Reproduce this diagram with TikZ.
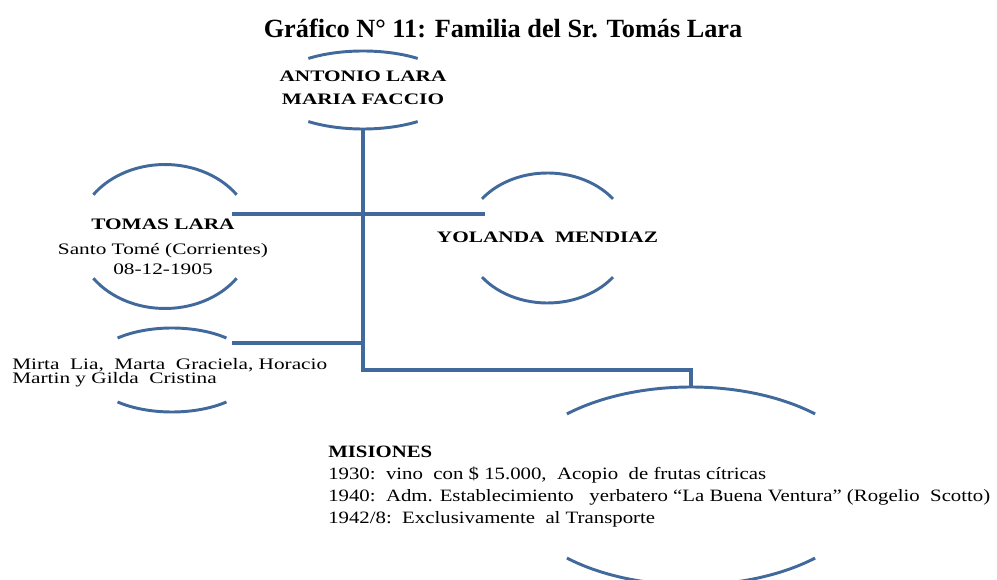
\documentclass[tikz,border=0pt]{standalone}
\usepackage{fontspec}
\setmainfont{Liberation Serif}
\newfontfamily\widefont[FakeStretch=1.33]{Liberation Serif}
\newfontfamily\listfont[FakeStretch=1.2]{Liberation Serif}
\usetikzlibrary{calc,positioning}
\definecolor{famblue}{HTML}{41699C}
\tikzset{
  ring/.style={draw=famblue, line width=2.2pt},
  link/.style={draw=famblue, line width=2.4pt},
  person/.style={inner sep=0pt, align=center, font=\widefont\fontsize{12}{17}\selectfont},
  textblock/.style={inner sep=0pt, align=left, anchor=west}
}

\begin{document}
\begin{tikzpicture}[x=0.75pt, y=0.75pt]

  \useasboundingbox (0,0) rectangle (997,-580);

  \node [inner sep=0pt, font=\bfseries\fontsize{19.7}{22}\selectfont] at (503,-28) (title) {Gráfico N° 11: Familia del Sr. Tomás Lara};

  % ring centres
  \coordinate (antonio) at (363,-90);
  \coordinate (tomas) at (165,-236.5);
  \coordinate (yolanda) at (547.5,-238);
  \coordinate (kids) at (172,-370);
  \coordinate (misiones) at (691,-486);

  \node [person] at ($(antonio)+(0,2)$) (antonio-txt) {\bfseries ANTONIO LARA\\\bfseries MARIA FACCIO};
  \node [person, font=\widefont\fontsize{12}{15}\selectfont] at ($(tomas)+(-2,-10)$) (tomas-txt) {\bfseries TOMAS LARA\\[3.75pt]Santo Tomé (Corrientes)\\08-12-1905};
  \node [person] at ($(yolanda)+(0,1)$) (yolanda-txt) {\bfseries YOLANDA\ \ MENDIAZ};
  \node [textblock, font=\widefont\fontsize{12}{10.5}\selectfont] at (12,-372.5) (kids-txt) {Mirta\ \ Lia,\ \ Marta\ \ Graciela,\ Horacio\\Martin y Gilda\ \ Cristina};
  \node [textblock, font=\listfont\fontsize{13}{16.5}\selectfont] at (328,-487) (misiones-txt) {\textbf{MISIONES}\\1930:\ \ vino\ \ con \$ 15.000,\ \ Acopio\ \ de frutas cítricas\\1940:\ \ Adm. Establecimiento\ \ \ yerbatero “La Buena Ventura” (Rogelio\ \ Scotto)\\1942/8:\ \ Exclusivamente\ \ al Transporte};

  % broken rings
  \draw [ring] ($(antonio)+(54:93 and 39)$) arc[start angle=54, end angle=126, x radius=93, y radius=39];
  \draw [ring] ($(antonio)+(234:93 and 39)$) arc[start angle=234, end angle=306, x radius=93, y radius=39];
  \draw [ring] ($(tomas)+(35.5:88 and 72)$) arc[start angle=35.5, end angle=144.5, x radius=88, y radius=72];
  \draw [ring] ($(tomas)+(215.5:88 and 72)$) arc[start angle=215.5, end angle=324.5, x radius=88, y radius=72];
  \draw [ring] ($(yolanda)+(37:82 and 65)$) arc[start angle=37, end angle=143, x radius=82, y radius=65];
  \draw [ring] ($(yolanda)+(217:82 and 65)$) arc[start angle=217, end angle=323, x radius=82, y radius=65];
  \draw [ring] ($(kids)+(49.6:84 and 42)$) arc[start angle=49.6, end angle=130.4, x radius=84, y radius=42];
  \draw [ring] ($(kids)+(229.6:84 and 42)$) arc[start angle=229.6, end angle=310.4, x radius=84, y radius=42];
  \draw [ring] ($(misiones)+(46.7:181 and 99)$) arc[start angle=46.7, end angle=133.3, x radius=181, y radius=99];
  \draw [ring] ($(misiones)+(226.7:181 and 99)$) arc[start angle=226.7, end angle=313.3, x radius=181, y radius=99];

  % connectors
  \coordinate (antonio-bot) at ($(antonio)+(0,-39)$);
  \coordinate (misiones-top) at ($(misiones)+(0,99)$);
  \coordinate (tomas-r) at ($(tomas)+(67,22.5)$);
  \coordinate (yolanda-l) at ($(yolanda)+(-62.5,24)$);
  \coordinate (kids-r) at ($(kids)+(60,27)$);
  \coordinate (trunk) at ($(antonio-bot)+(0,-241)$);

  \draw [link] (antonio-bot) -- (trunk) -| (misiones-top);
  \draw [link] (tomas-r) -- (yolanda-l);
  \draw [link] (kids-r) -- (kids-r -| trunk);

\end{tikzpicture}
\end{document}
